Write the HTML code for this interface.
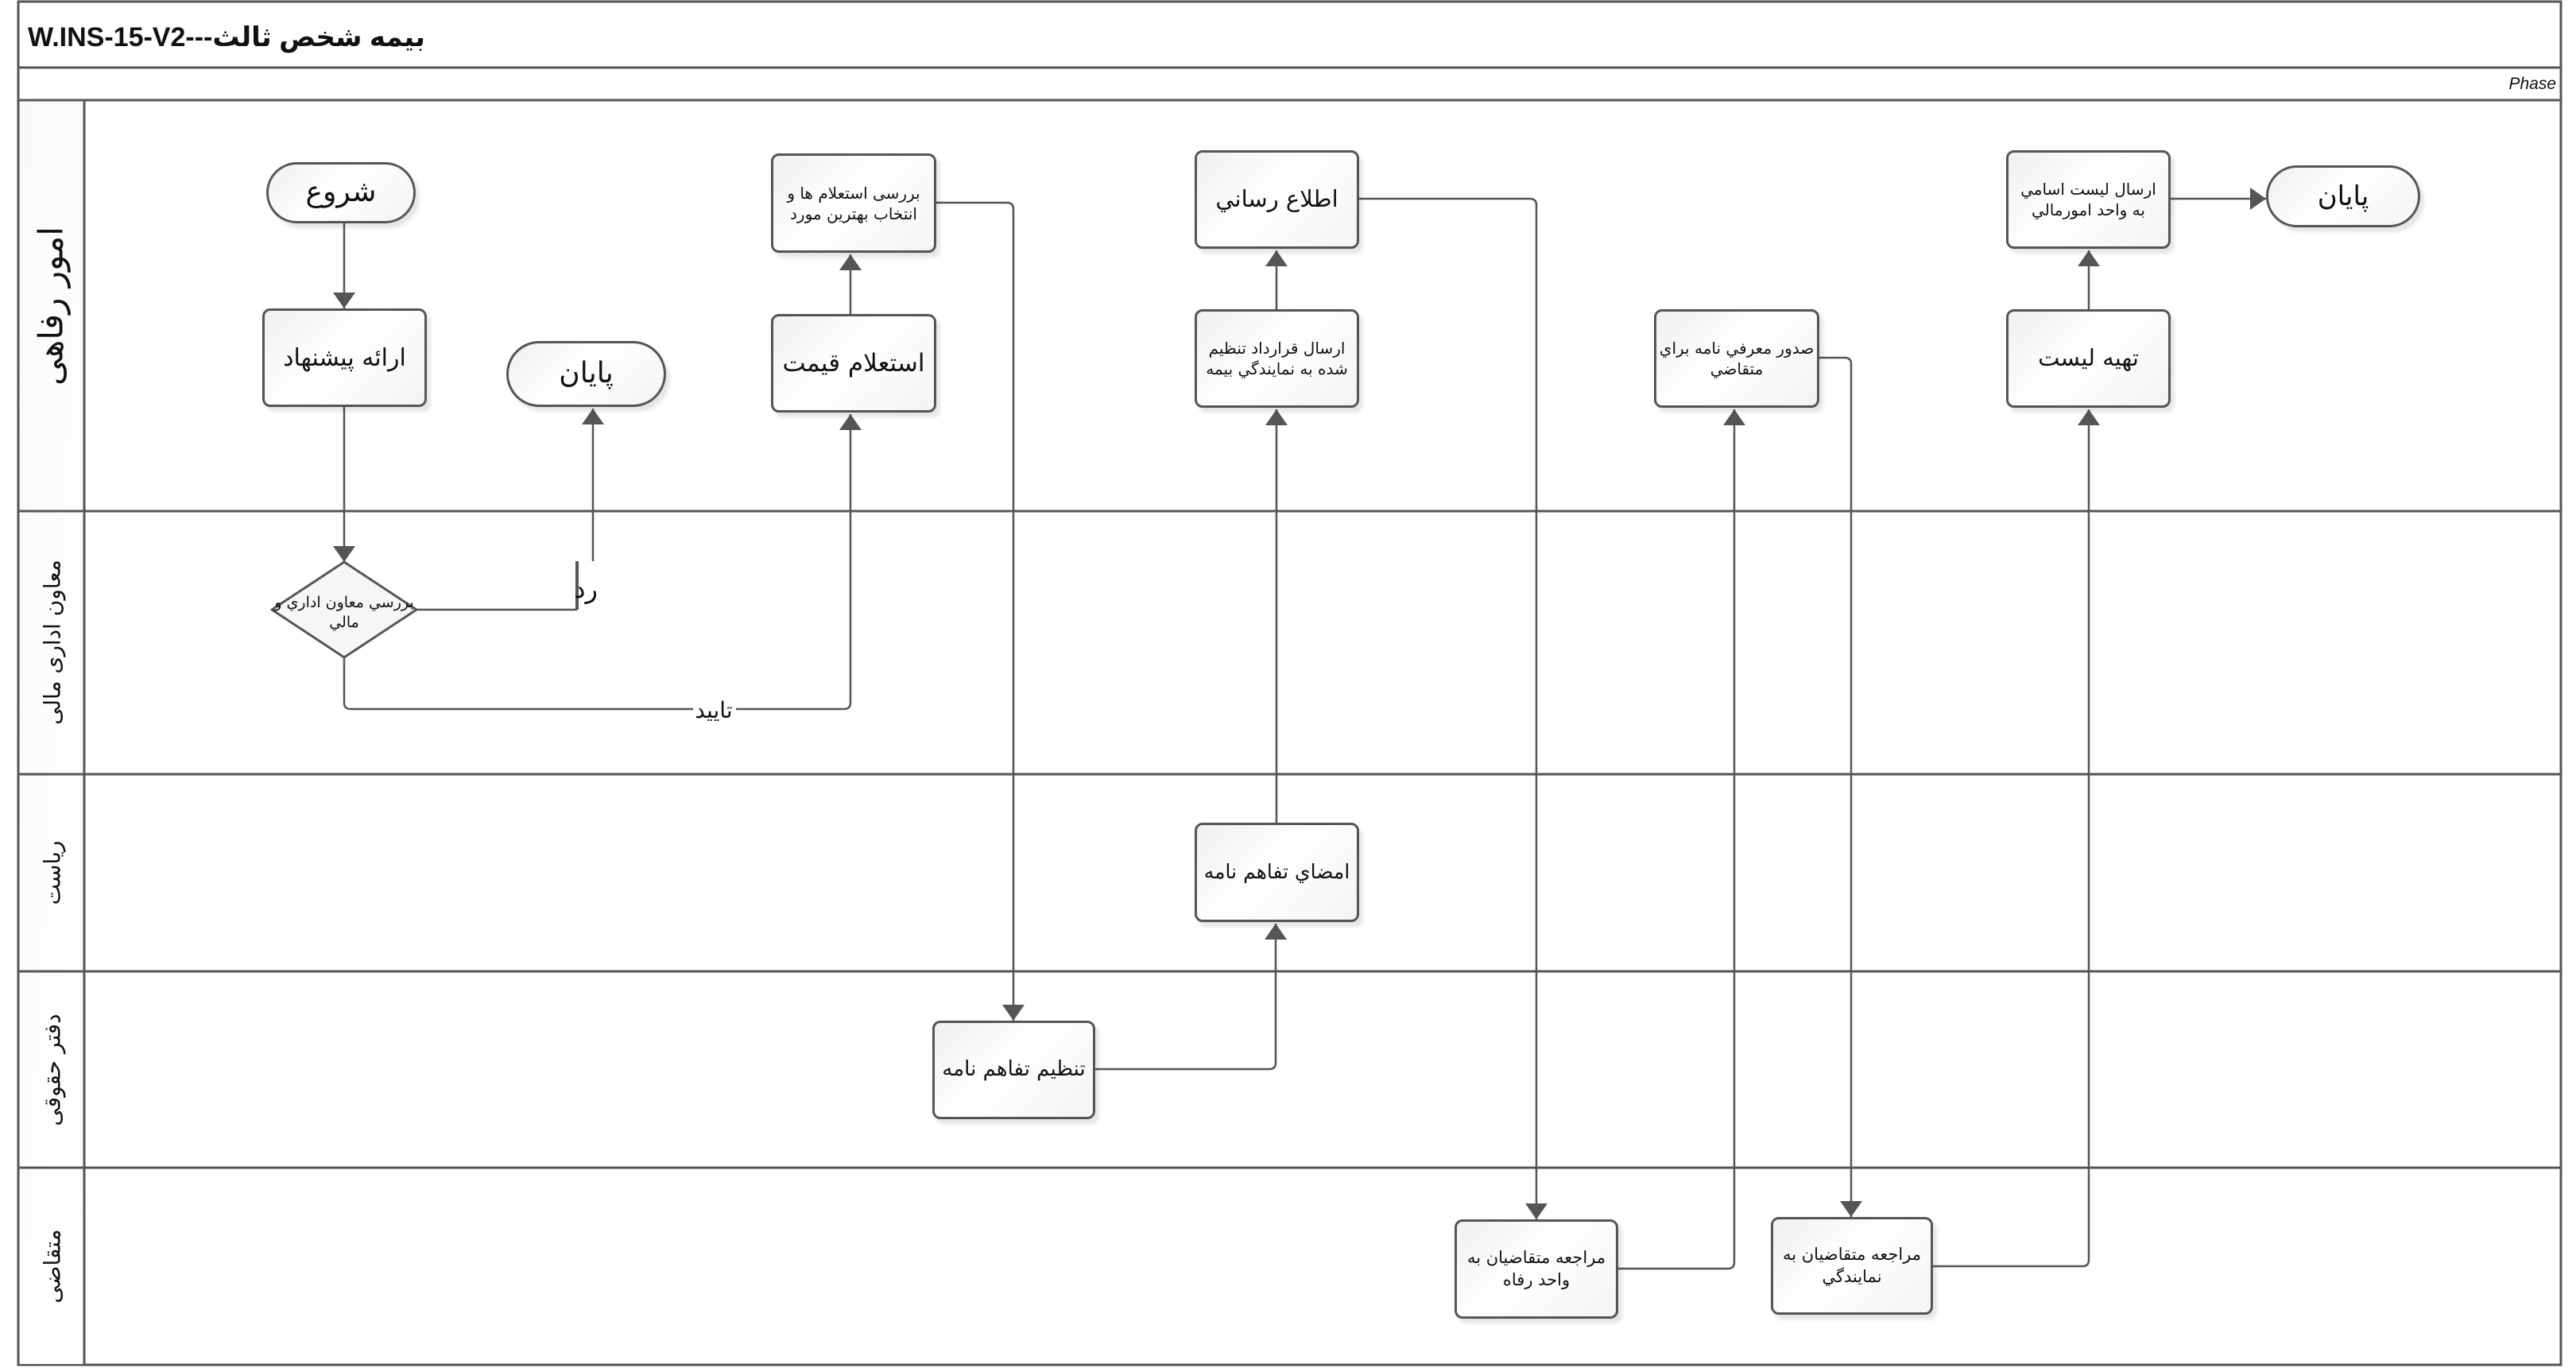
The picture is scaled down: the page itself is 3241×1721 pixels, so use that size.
<!DOCTYPE html>
<html><head><meta charset="utf-8">
<style>
html,body{margin:0;padding:0;background:#fff;}
body{width:3241px;height:1721px;position:relative;overflow:hidden;font-family:"DejaVu Sans","Liberation Sans",sans-serif;}
.b{position:absolute;box-sizing:border-box;border:3px solid #555;border-radius:10px;
background:linear-gradient(135deg,#f0f0f0 0%,#ffffff 45%,#f4f4f4 100%);
box-shadow:5px 6px 5px rgba(0,0,0,0.10);display:flex;align-items:center;justify-content:center;
text-align:center;direction:rtl;color:#111;line-height:1.3;overflow:visible;}
.p{border-radius:50px;}
.lbl{position:absolute;transform:translate(-50%,-50%) rotate(-90deg);white-space:nowrap;direction:rtl;color:#111;}
</style></head><body>
<svg width="3241" height="1721" style="position:absolute;left:0;top:0">
<defs>
<linearGradient id="lg" x1="0" y1="0" x2="1" y2="1"><stop offset="0" stop-color="#fafafa"/><stop offset="1" stop-color="#fff"/></linearGradient>
<marker id="a" viewBox="0 0 20 28" refX="20" refY="14" markerWidth="22" markerHeight="28" markerUnits="userSpaceOnUse" orient="auto"><path d="M0,0 L20,14 L0,28 Z" fill="#555"/></marker>
</defs>
<rect x="23" y="2" width="3199" height="1715" fill="none" stroke="#555" stroke-width="3"/>
<rect x="25" y="128" width="80" height="1588" fill="url(#lg)"/>
<line x1="23" y1="85" x2="3222" y2="85" stroke="#555" stroke-width="3"/>
<line x1="23" y1="126" x2="3222" y2="126" stroke="#555" stroke-width="3"/>
<line x1="23" y1="643" x2="3222" y2="643" stroke="#555" stroke-width="3"/>
<line x1="23" y1="974" x2="3222" y2="974" stroke="#555" stroke-width="3"/>
<line x1="23" y1="1222" x2="3222" y2="1222" stroke="#555" stroke-width="3"/>
<line x1="23" y1="1469" x2="3222" y2="1469" stroke="#555" stroke-width="3"/>
<line x1="106" y1="126" x2="106" y2="1717" stroke="#555" stroke-width="3"/>
<text x="35" y="58" font-family="Liberation Sans, DejaVu Sans, sans-serif" font-weight="bold" font-size="34" fill="#111">W.INS-15-V2---بیمه شخص ثالث</text>
<text x="3216" y="112" text-anchor="end" font-family="Liberation Sans, sans-serif" font-style="italic" font-size="21" fill="#111">Phase</text>
<g stroke="#555" stroke-width="2.5" fill="none">
<path d="M433 281 V388" marker-end="url(#a)"/>
<path d="M433 512 V707" marker-end="url(#a)"/>
<path d="M525 767 H726"/>
<path d="M726 706 V767" stroke-width="4"/>
<path d="M746 706 V514" marker-end="url(#a)"/>
<path d="M433 827 V884 Q433 892 441 892 H1062 Q1070 892 1070 884 V521" marker-end="url(#a)"/>
<path d="M1070 395 V320" marker-end="url(#a)"/>
<path d="M1178 255 H1267 Q1275 255 1275 263 V1284" marker-end="url(#a)"/>
<path d="M1378 1345 H1597 Q1605 1345 1605 1337 V1162" marker-end="url(#a)"/>
<path d="M1606 1035 V515" marker-end="url(#a)"/>
<path d="M1606 389 V315" marker-end="url(#a)"/>
<path d="M1710 250 H1925 Q1933 250 1933 258 V1534" marker-end="url(#a)"/>
<path d="M2036 1596 H2174 Q2182 1596 2182 1588 V515" marker-end="url(#a)"/>
<path d="M2289 450 H2321 Q2329 450 2329 458 V1531" marker-end="url(#a)"/>
<path d="M2432 1593 H2620 Q2628 1593 2628 1585 V515" marker-end="url(#a)"/>
<path d="M2628 389 V315" marker-end="url(#a)"/>
<path d="M2731 250 H2851" marker-end="url(#a)"/>
</g>
<rect x="872" y="880" width="54" height="26" fill="#fff"/>
<text x="898" y="903" text-anchor="middle" font-size="28" fill="#111" direction="rtl">تایید</text>
<text x="752" y="752" font-size="32" fill="#111" direction="rtl">رد</text>
<polygon points="433,707 524,767 433,827 342,767" fill="#f6f6f6" stroke="#555" stroke-width="3" stroke-linejoin="round"/>
<text x="433" y="764" text-anchor="middle" font-size="19" fill="#111" direction="rtl">بررسي معاون اداري و</text>
<text x="433" y="789" text-anchor="middle" font-size="19" fill="#111" direction="rtl">مالي</text>
</svg>
<div class="lbl" style="left:64px;top:385px;font-size:42px;">امور رفاهی</div>
<div class="lbl" style="left:66px;top:808px;font-size:28px;">معاون اداری مالی</div>
<div class="lbl" style="left:66px;top:1098px;font-size:28px;">ریاست</div>
<div class="lbl" style="left:66px;top:1346px;font-size:28px;">دفتر حقوقی</div>
<div class="lbl" style="left:66px;top:1593px;font-size:28px;">متقاضی</div>
<div class="b p" style="left:335px;top:204px;width:188px;height:77px;font-size:36px;">شروع</div>
<div class="b" style="left:330px;top:388px;width:207px;height:124px;font-size:30px;">ارائه پیشنهاد</div>
<div class="b p" style="left:637px;top:429px;width:201px;height:83px;font-size:36px;">پایان</div>
<div class="b" style="left:970px;top:193px;width:208px;height:125px;font-size:20px;">بررسی استعلام ها و<br>انتخاب بهترین مورد</div>
<div class="b" style="left:970px;top:395px;width:208px;height:124px;font-size:31px;">استعلام قیمت</div>
<div class="b" style="left:1173px;top:1284px;width:205px;height:124px;font-size:26px;">تنظیم تفاهم نامه</div>
<div class="b" style="left:1503px;top:1035px;width:207px;height:125px;font-size:25px;">امضاي تفاهم نامه</div>
<div class="b" style="left:1503px;top:389px;width:207px;height:124px;font-size:20px;">ارسال قرارداد تنظيم<br>شده به نمايندگي بيمه</div>
<div class="b" style="left:1503px;top:189px;width:207px;height:124px;font-size:29px;">اطلاع رساني</div>
<div class="b" style="left:1830px;top:1534px;width:206px;height:125px;font-size:21px;">مراجعه متقاضیان به<br>واحد رفاه</div>
<div class="b" style="left:2081px;top:389px;width:208px;height:124px;font-size:20px;">صدور معرفي نامه براي<br>متقاضي</div>
<div class="b" style="left:2228px;top:1531px;width:204px;height:123px;font-size:21px;">مراجعه متقاضیان به<br>نمایندگي</div>
<div class="b" style="left:2524px;top:389px;width:207px;height:124px;font-size:29px;">تهیه لیست</div>
<div class="b" style="left:2524px;top:189px;width:207px;height:124px;font-size:20px;">ارسال ليست اسامي<br>به واحد امورمالي</div>
<div class="b p" style="left:2851px;top:208px;width:194px;height:78px;font-size:34px;">پایان</div>
</body></html>
